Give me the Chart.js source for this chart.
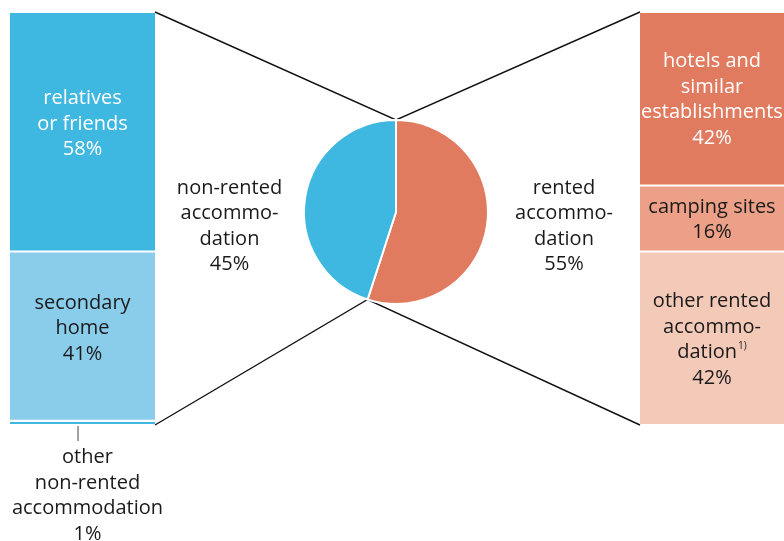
<!DOCTYPE html>
<html>
<head>
<meta charset="utf-8">
<script src="https://cdn.jsdelivr.net/npm/chart.js@4.4.1/dist/chart.umd.min.js"></script>
<style>
  html, body { margin: 0; padding: 0; background: #ffffff; }
  #wrap { position: relative; width: 784px; height: 541px; overflow: hidden; }
  #wrap canvas { position: absolute; left: 0; top: 0; }
</style>
</head>
<body>
<div id="wrap">
  <canvas id="leftBar" width="784" height="541"></canvas>
  <canvas id="rightBar" width="784" height="541"></canvas>
  <canvas id="pie" width="784" height="541"></canvas>
</div>
<script>
// Overall split of overnight stays
const pieCategories = ['rented\naccommo-\ndation', 'non-rented\naccommo-\ndation'];
const pieShares = [55, 45];

// Breakdown of non-rented accommodation (top to bottom)
const leftCategories = ['relatives\nor friends', 'secondary\nhome', 'other\nnon-rented\naccommodation'];
const leftShares = [58, 41, 1];

// Breakdown of rented accommodation (top to bottom)
const rightCategories = ['hotels and\nsimilar\nestablishments', 'camping sites', 'other rented\naccommo-\ndation'];
const rightShares = [42, 16, 42];
const rightNotes = ['', '', '1)'];

const FONT = '"Open Sans", "Noto Sans", sans-serif';
const FONT_SIZE = 20;
const LINE_H = 25.5;
const DARK = '#1a1a1a';

const BLUE = '#3eb8e0';
const LIGHT_BLUE = '#89cdeb';
const ORANGE = '#e17b5f';
const MID_ORANGE = '#eba087';
const PALE_ORANGE = '#f3cab8';

Chart.defaults.font.family = FONT;
Chart.defaults.animation = false;

// draw a centered block of lines; optional superscript note after the last text line
function drawBlock(ctx, lines, cx, firstBaseline, color, note) {
  ctx.save();
  ctx.fillStyle = color;
  ctx.textBaseline = 'alphabetic';
  lines.forEach((line, k) => {
    const y = firstBaseline + k * LINE_H;
    ctx.font = FONT_SIZE + 'px ' + FONT;
    const noteHere = note && k === lines.length - 2;
    if (noteHere) {
      const w = ctx.measureText(line).width;
      ctx.font = '10px ' + FONT;
      const nw = ctx.measureText(note).width + 1;
      const start = cx - (w + nw) / 2;
      ctx.textAlign = 'left';
      ctx.font = FONT_SIZE + 'px ' + FONT;
      ctx.fillText(line, start, y);
      ctx.font = '10px ' + FONT;
      ctx.fillText(note, start + w + 1, y - 9);
    } else {
      ctx.textAlign = 'center';
      ctx.fillText(line, cx, y);
    }
  });
  ctx.restore();
}

function blockFirstBaseline(cy, n) {
  return cy - (n - 1) * LINE_H / 2 + 7;
}

// labels inside each stacked segment, or below it with a leader when it is too thin
const segmentLabels = {
  id: 'segmentLabels',
  afterDatasetsDraw(chart, args, opts) {
    const ctx = chart.ctx;
    const shift = opts.shift || 0;
    chart.data.datasets.forEach((ds, i) => {
      const el = chart.getDatasetMeta(i).data[0];
      const top = Math.min(el.y, el.base);
      const bottom = Math.max(el.y, el.base);
      const lines = ds.label.split('\n').concat([ds.data[0] + '%']);
      const needed = lines.length * LINE_H;
      if (bottom - top >= needed) {
        const cy = (top + bottom) / 2 + shift;
        drawBlock(ctx, lines, el.x, blockFirstBaseline(cy, lines.length), opts.textColors[i], opts.notes ? opts.notes[i] : '');
      } else {
        ctx.save();
        ctx.strokeStyle = '#444';
        ctx.lineWidth = 1;
        ctx.beginPath();
        ctx.moveTo(el.x - 4.5, bottom + 1);
        ctx.lineTo(el.x - 4.5, bottom + 16);
        ctx.stroke();
        ctx.restore();
        drawBlock(ctx, lines, el.x + 5, bottom + 38, DARK, '');
      }
    });
  }
};

function stackedBar(canvasId, categories, shares, colors, textColors, notes, shift, padding) {
  return new Chart(document.getElementById(canvasId), {
    type: 'bar',
    data: {
      labels: [''],
      datasets: categories.map((c, i) => ({
        label: c,
        data: [shares[i]],
        backgroundColor: colors[i],
        borderColor: '#ffffff',
        borderWidth: { top: 1.4, bottom: 1.4, left: 0, right: 0 },
        borderSkipped: false,
        barPercentage: 1,
        categoryPercentage: 1
      }))
    },
    options: {
      responsive: false,
      layout: { padding },
      plugins: {
        legend: { display: false },
        tooltip: { enabled: false },
        segmentLabels: { textColors, notes, shift }
      },
      scales: {
        x: { stacked: true, display: false },
        y: { stacked: true, display: false, min: 0, max: 100, reverse: true }
      }
    },
    plugins: [segmentLabels]
  });
}

const leftChart = stackedBar('leftBar', leftCategories, leftShares,
  [BLUE, LIGHT_BLUE, BLUE], ['#ffffff', DARK, DARK], null, -9,
  { left: 10, top: 12, right: 629, bottom: 116 });

const rightChart = stackedBar('rightBar', rightCategories, rightShares,
  [ORANGE, MID_ORANGE, PALE_ORANGE], ['#ffffff', DARK, DARK], rightNotes, 0,
  { left: 640, top: 12, right: 0, bottom: 116 });

function barEdges(chart, side) {
  const metas = chart.data.datasets.map((d, i) => chart.getDatasetMeta(i).data[0]);
  const first = metas[0], last = metas[metas.length - 1];
  const x = side === 'right' ? first.x + first.width / 2 : first.x - first.width / 2;
  return { x, top: Math.min(first.y, first.base), bottom: Math.max(last.y, last.base) };
}

// connector lines from the pie to the two breakdown bars, plus the pie's side labels
const pieLinks = {
  id: 'pieLinks',
  beforeDatasetsDraw(chart) {
    const ctx = chart.ctx;
    const arcs = chart.getDatasetMeta(0).data;
    const a0 = arcs[0], a1 = arcs[1];
    const r = a0.outerRadius;
    const topPt = { x: a0.x + r * Math.cos(a0.startAngle), y: a0.y + r * Math.sin(a0.startAngle) };
    const botPt = { x: a1.x + r * Math.cos(a1.startAngle), y: a1.y + r * Math.sin(a1.startAngle) };
    const L = barEdges(leftChart, 'right');
    const R = barEdges(rightChart, 'left');
    ctx.save();
    ctx.strokeStyle = '#111111';
    ctx.lineWidth = 1.4;
    ctx.beginPath();
    ctx.moveTo(L.x, L.top); ctx.lineTo(topPt.x, topPt.y); ctx.lineTo(R.x, R.top);
    ctx.moveTo(L.x, L.bottom); ctx.lineTo(botPt.x, botPt.y); ctx.lineTo(R.x, R.bottom);
    ctx.stroke();
    ctx.restore();
  },
  afterDatasetsDraw(chart) {
    const ctx = chart.ctx;
    const arcs = chart.getDatasetMeta(0).data;
    const a0 = arcs[0];
    const r = a0.outerRadius;
    const L = barEdges(leftChart, 'right');
    const R = barEdges(rightChart, 'left');
    const cy = a0.y + LINE_H / 2;
    chart.data.labels.forEach((lab, i) => {
      const lines = lab.split('\n').concat([chart.data.datasets[0].data[i] + '%']);
      const cx = i === 0 ? (a0.x + r + R.x) / 2 : (L.x + a0.x - r) / 2;
      drawBlock(ctx, lines, cx, blockFirstBaseline(cy, lines.length), DARK, '');
    });
  }
};

new Chart(document.getElementById('pie'), {
  type: 'pie',
  data: {
    labels: pieCategories,
    datasets: [{
      data: pieShares,
      backgroundColor: [ORANGE, BLUE],
      borderColor: '#ffffff',
      borderWidth: 2
    }]
  },
  options: {
    responsive: false,
    layout: { padding: { left: 303, right: 295, top: 119, bottom: 236 } },
    plugins: { legend: { display: false }, tooltip: { enabled: false } }
  },
  plugins: [pieLinks]
});
</script>
</body>
</html>
